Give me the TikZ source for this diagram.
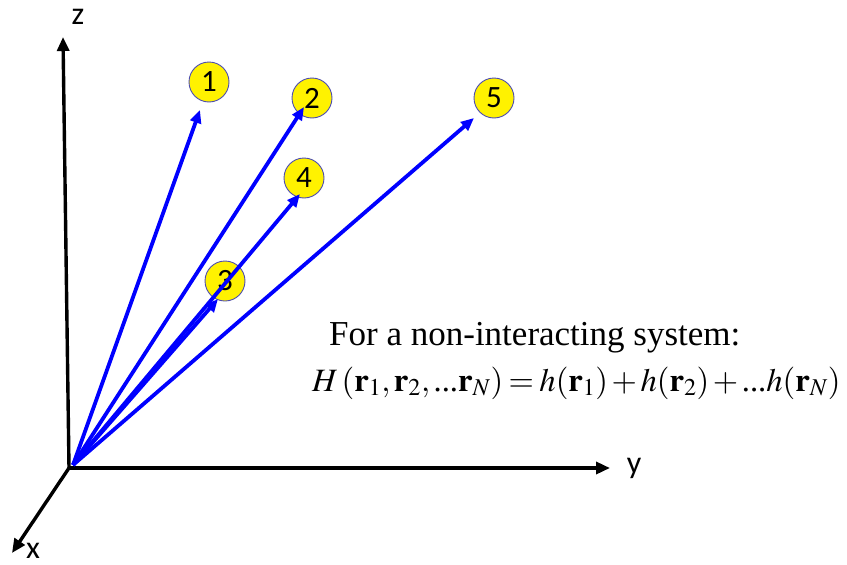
\documentclass[tikz,border=0pt]{standalone}
\usepackage{mathptmx}
\usepackage{fontspec}
\setmainfont{Liberation Serif}
\newfontfamily\labelfont{Carlito}
\usepackage{tikz}
\usetikzlibrary{positioning,arrows.meta}

\newcommand{\dd}{\mathord{\textrm{...}}}

\begin{document}
\begin{tikzpicture}[
    x=1pt, y=-1pt,
    axis/.style={
        line width=3.4pt,
        -{Triangle[length=14pt,width=12pt]}
    },
    vec/.style={
        draw=blue,
        line width=3.8pt,
        -{Triangle[length=13pt,width=11pt]}
    },
    ball/.style={
        circle,
        draw=blue!40!gray,
        fill=yellow,
        line width=0.9pt,
        minimum size=40pt,
        inner sep=0pt,
        font=\labelfont\fontsize{31}{31}\selectfont
    },
    axislabel/.style={font=\labelfont\fontsize{32}{32}\selectfont},
    caption/.style={anchor=base west, inner sep=0pt, font=\fontsize{35}{40}\selectfont}
]
\useasboundingbox (0,0) rectangle (847,565);

% axes
\coordinate (o) at (69,468);
\coordinate (zend) at (63,37);
\coordinate (yend) at (610,468);
\coordinate (xend) at (12,553);
\draw[axis] (o) -- (zend);
\draw[axis] (o) -- (yend);
\draw[axis] (o) -- (xend);
\node[axislabel] (zlab) at (78,17) {z};
\node[axislabel] (ylab) at (634,468) {y};
\node[axislabel] (xlab) at (33,551) {x};

% particles
\node[ball] (p1) at (209,82) {1};
\node[ball] (p2) at (312,98) {2};
\node[ball] (p3) at (225,281) {3};
\node[ball] (p4) at (304,178) {4};
\node[ball] (p5) at (494,98) {5};

\coordinate (v) at (73,465);
\draw[vec] (v) -- (200,110);
\draw[vec] (v) -- (304,107);
\draw[vec] (v) -- (218,299);
\draw[vec] (v) -- (300,194);
\draw[vec] (v) -- (474,118);

% hamiltonian
\node[caption] (title) at (329,345) {For a non-interacting system:};
\node[caption, font=\fontsize{32.6}{38}\selectfont] (ham) at (312,391)
    {$\medmuskip=2mu\thickmuskip=3mu
     H\,(\mathbf{r}_1,\mathbf{r}_2,\dd\mathbf{r}_N)=h(\mathbf{r}_1)+h(\mathbf{r}_2)+\dd h(\mathbf{r}_N)$};

\end{tikzpicture}
\end{document}
